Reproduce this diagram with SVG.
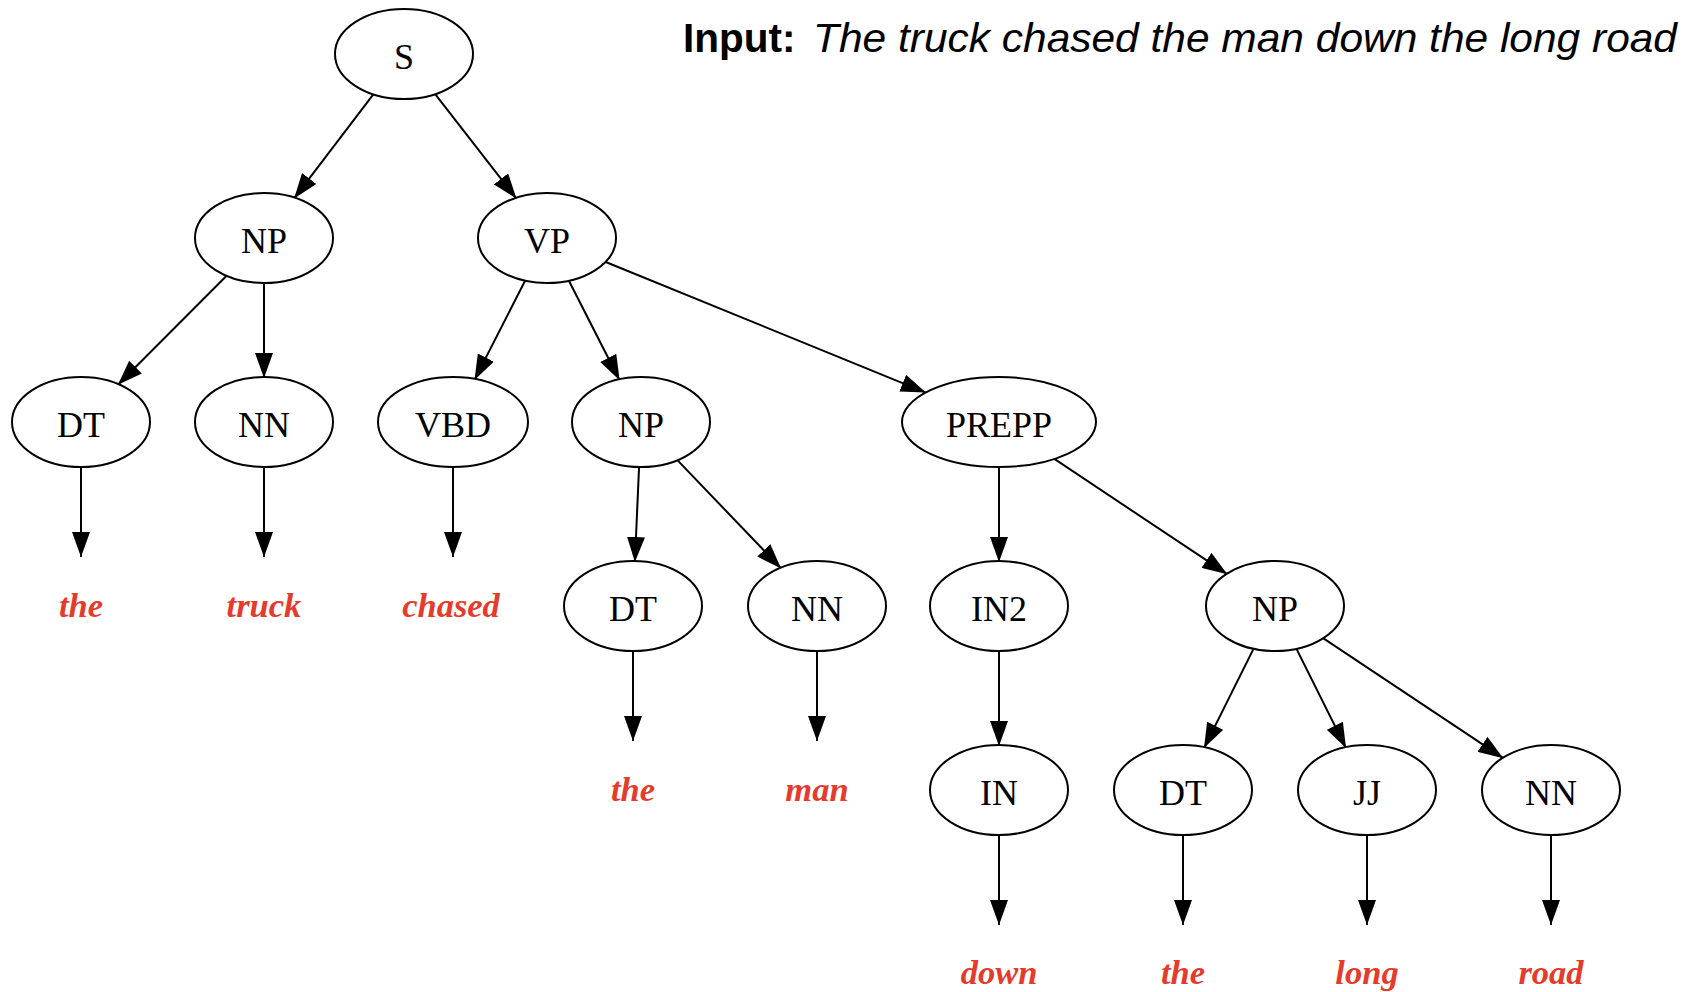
<svg xmlns="http://www.w3.org/2000/svg" width="1698" height="992" viewBox="0 0 1698 992">
<style>
.node ellipse{fill:#fff;stroke:#000;stroke-width:2}
.node text{font-family:"Liberation Serif","Times New Roman",serif;font-size:36px;fill:#000;text-anchor:middle}
.leaf{font-family:"Liberation Serif","Times New Roman",serif;font-size:34.5px;font-weight:bold;font-style:italic;fill:#e53b2c;text-anchor:middle}
.edges path{fill:none;stroke:#000;stroke-width:2;marker-end:url(#arr)}
.title{font-family:"Liberation Sans",Arial,sans-serif;font-size:40.5px;fill:#000}
</style>
<defs>
<marker id="arr" viewBox="0 0 25 18" refX="25" refY="9" markerWidth="25" markerHeight="18" markerUnits="userSpaceOnUse" orient="auto">
<path d="M0,0 L25,9 L0,18 Z" fill="#000"/>
</marker>
</defs>
<rect width="1698" height="992" fill="#fff"/>
<g id="title">
<text class="title" x="683" y="52" font-weight="bold">Input:</text>
<text class="title" x="813" y="52" font-style="italic" textLength="864" lengthAdjust="spacingAndGlyphs">The truck chased the man down the long road</text>
</g>
<g class="edges" id="edges">
<path d="M373.9,93.6 L294.1,198.4"/>
<path d="M434.6,93.4 L516.4,198.6"/>
<path d="M227.1,275.2 L117.9,384.8"/>
<path d="M264,282 L264,378"/>
<path d="M525.6,279.8 L474.5,379.9"/>
<path d="M568.4,279.8 L619.6,380.2"/>
<path d="M605.1,261.7 L925.9,392.6"/>
<path d="M639.1,466 L634.9,562"/>
<path d="M676.9,459.6 L781.1,568.4"/>
<path d="M999,466 L999,562"/>
<path d="M1053.6,458.4 L1227.3,574.2"/>
<path d="M999,650 L999,746"/>
<path d="M1254,647.9 L1204,748.1"/>
<path d="M1296,647.9 L1346,748.1"/>
<path d="M1322.7,637.8 L1503.3,758.2"/>
<path d="M81,466 L81,557"/>
<path d="M264,466 L264,557"/>
<path d="M453,466 L453,557"/>
<path d="M633,650 L633,741"/>
<path d="M817,650 L817,741"/>
<path d="M999,834 L999,925"/>
<path d="M1183,834 L1183,925"/>
<path d="M1367,834 L1367,925"/>
<path d="M1551,834 L1551,925"/>
</g>
<g id="n_S" class="node"><ellipse cx="404" cy="54" rx="69" ry="45"/><text x="404" y="69">S</text></g>
<g id="n_NP1" class="node"><ellipse cx="264" cy="238" rx="69" ry="45"/><text x="264" y="253">NP</text></g>
<g id="n_VP" class="node"><ellipse cx="547" cy="238" rx="69" ry="45"/><text x="547" y="253">VP</text></g>
<g id="n_DT1" class="node"><ellipse cx="81" cy="422" rx="69" ry="45"/><text x="81" y="437">DT</text></g>
<g id="n_NN1" class="node"><ellipse cx="264" cy="422" rx="69" ry="45"/><text x="264" y="437">NN</text></g>
<g id="n_VBD" class="node"><ellipse cx="453" cy="422" rx="75" ry="45"/><text x="453" y="437">VBD</text></g>
<g id="n_NP2" class="node"><ellipse cx="641" cy="422" rx="69" ry="45"/><text x="641" y="437">NP</text></g>
<g id="n_PREPP" class="node"><ellipse cx="999" cy="422" rx="97" ry="45"/><text x="999" y="437">PREPP</text></g>
<g id="n_DT2" class="node"><ellipse cx="633" cy="606" rx="69" ry="45"/><text x="633" y="621">DT</text></g>
<g id="n_NN2" class="node"><ellipse cx="817" cy="606" rx="69" ry="45"/><text x="817" y="621">NN</text></g>
<g id="n_IN2" class="node"><ellipse cx="999" cy="606" rx="69" ry="45"/><text x="999" y="621">IN2</text></g>
<g id="n_NP3" class="node"><ellipse cx="1275" cy="606" rx="69" ry="45"/><text x="1275" y="621">NP</text></g>
<g id="n_IN" class="node"><ellipse cx="999" cy="790" rx="69" ry="45"/><text x="999" y="805">IN</text></g>
<g id="n_DT3" class="node"><ellipse cx="1183" cy="790" rx="69" ry="45"/><text x="1183" y="805">DT</text></g>
<g id="n_JJ" class="node"><ellipse cx="1367" cy="790" rx="69" ry="45"/><text x="1367" y="805">JJ</text></g>
<g id="n_NN3" class="node"><ellipse cx="1551" cy="790" rx="69" ry="45"/><text x="1551" y="805">NN</text></g>
<g id="leaves">
<text class="leaf" x="81" y="617">the</text>
<text class="leaf" x="264" y="617">truck</text>
<text class="leaf" x="451" y="617">chased</text>
<text class="leaf" x="633" y="801">the</text>
<text class="leaf" x="817" y="801">man</text>
<text class="leaf" x="999" y="984">down</text>
<text class="leaf" x="1183" y="984">the</text>
<text class="leaf" x="1367" y="984">long</text>
<text class="leaf" x="1551" y="984">road</text>
</g>
</svg>
